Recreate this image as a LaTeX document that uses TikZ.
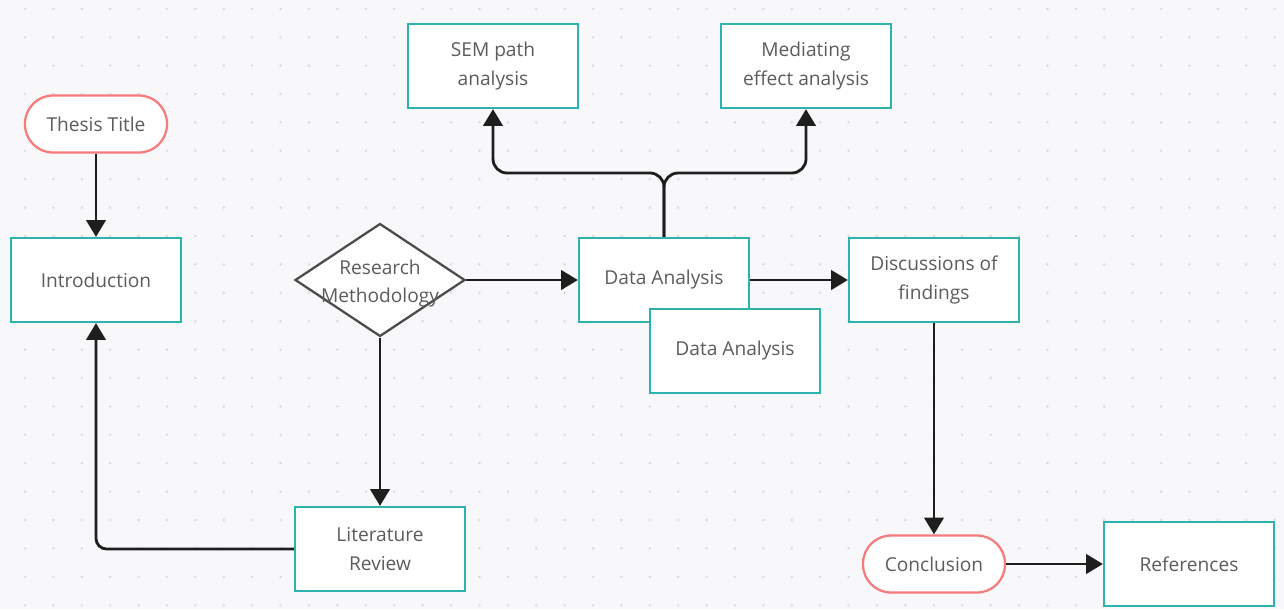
\documentclass[tikz,border=0pt]{standalone}
\usepackage{fontspec}
\setmainfont{Open Sans}
\usepackage{xcolor}
\usepackage{tikz}
\usetikzlibrary{shapes.geometric,arrows.meta}

\definecolor{fond}{HTML}{F8F8FB}
\definecolor{point}{HTML}{DADAE0}
\definecolor{sarcelle}{HTML}{2DB3AE}
\definecolor{saumon}{HTML}{F47C7C}
\definecolor{gristexte}{HTML}{5C5C5C}
\definecolor{trait}{HTML}{1E1E1E}

\begin{document}
\begin{tikzpicture}[x=0.02cm,y=-0.02cm,
    etiquette/.style={text=gristexte, align=center, font=\fontsize{10.9}{16}\selectfont},
    boite/.style={etiquette, draw=sarcelle, line width=1.3pt, fill=white,
                  minimum width=3.4cm, minimum height=1.68cm},
    capsule/.style={etiquette, draw=saumon, line width=1.3pt, fill=white,
                    rounded corners=0.56cm, minimum width=2.84cm, minimum height=1.14cm},
    losange/.style={diamond, draw=black!70, line width=1.3pt, fill=white, aspect=1.5,
                    inner sep=0pt, minimum width=3.4cm, minimum height=2.26cm},
    fleche/.style={draw=trait, line width=1.6pt, -{Triangle[length=9.5pt,width=11pt]}}]

    % Fond pointillé
    \useasboundingbox[fill=fond] (0,0) rectangle (1284,609);
    \foreach \i in {0,...,45}
        \foreach \j in {0,...,21}
            \fill[point] (-3.4+28.4*\i, 8.8+28.4*\j) circle (0.8pt);

    % Noeuds
    \node[capsule] (titre) at (96,124) {Thesis Title};
    \node[boite] (intro) at (96,280) {Introduction};
    \node[losange] (methodo) at (380,280) {};
    \node[etiquette] at ([yshift=-2pt]methodo.center) {Research\\Methodology};
    \node[boite] (revue) at (380,549) {Literature\\Review};
    \node[boite] (sem) at (493,66) {SEM path\\analysis};
    \node[boite] (mediation) at (806,66) {Mediating\\effect analysis};
    \node[boite] (analyse) at (664,280) {Data Analysis};
    \node[boite] (analyse2) at (735,351) {Data Analysis};
    \node[boite] (discussion) at (934,280) {Discussions of\\findings};
    \node[capsule] (conclusion) at (934,564) {Conclusion};
    \node[boite] (references) at (1189,564) {References};
    \coordinate (fourche) at (664,173);

    % Connecteurs
    \draw[fleche] (titre) -- (intro);
    \draw[fleche, rounded corners=6pt] (revue.west) -| (intro.south);
    \draw[fleche] (methodo.south) -- (revue.north);
    \draw[fleche] (methodo.east) -- (analyse.west);
    \draw[fleche, rounded corners=8pt] (analyse.north) -- (fourche) -| (sem.south);
    \draw[fleche, rounded corners=8pt] (analyse.north) -- (fourche) -| (mediation.south);
    \draw[fleche] (analyse.east) -- (discussion.west);
    \draw[fleche] (discussion.south) -- (conclusion.north);
    \draw[fleche] (conclusion.east) -- (references.west);
\end{tikzpicture}
\end{document}
